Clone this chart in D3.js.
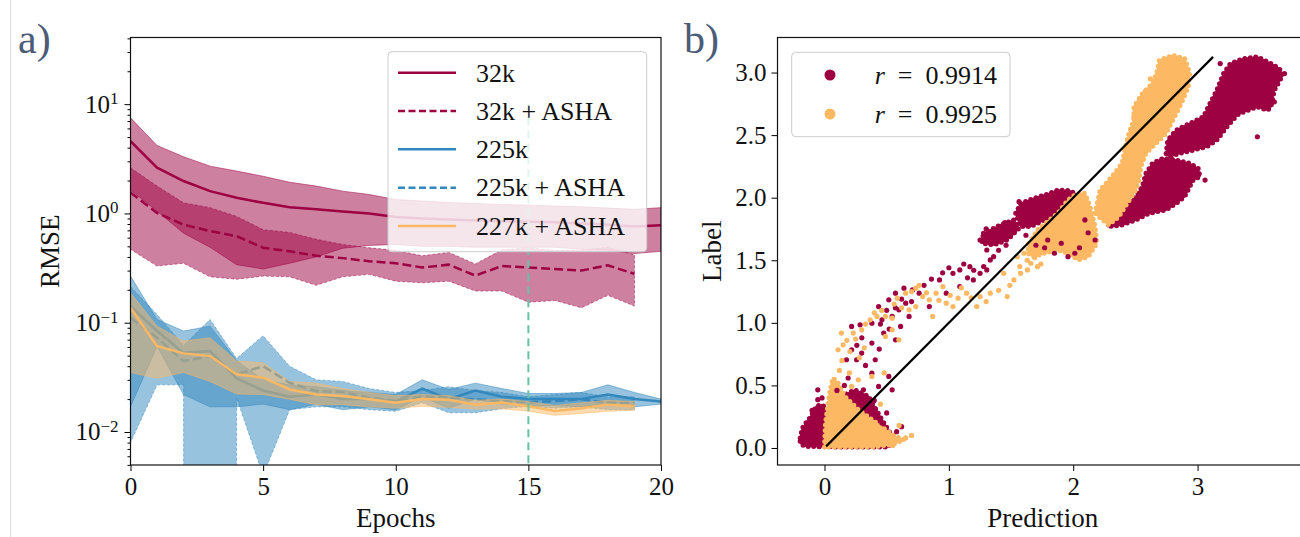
<!DOCTYPE html>
<html>
<head>
<meta charset="utf-8">
<script src="https://cdn.jsdelivr.net/npm/d3@7"></script>
<style>
  body { margin: 0; background: #fff; }
  svg text { font-family: 'Liberation Serif', 'DejaVu Serif', serif; fill: #111; }
</style>
</head>
<body>
<svg id="fig" width="1300" height="537"></svg>
<script>
// ---------- panel a) RMSE per epoch ----------
const epochs = [0,1,2,3,4,5,6,7,8,9,10,11,12,13,14,15,16,17,18,19,20];

const rmse32k = [4.59,2.62,1.98,1.60,1.39,1.25,1.14,1.09,1.04,1.00,0.93,0.90,0.88,0.86,0.85,0.84,0.83,0.81,0.79,0.76,0.78];
const hi32k   = [7.5,4.19,3.3,2.71,2.44,2.19,1.93,1.78,1.60,1.49,1.34,1.30,1.26,1.23,1.21,1.19,1.17,1.15,1.12,1.09,1.13];
const lo32k   = [1.64,1.05,0.66,0.49,0.34,0.31,0.35,0.40,0.48,0.51,0.52,0.50,0.50,0.49,0.49,0.49,0.49,0.47,0.46,0.43,0.45];

const rmse32kAsha = [1.55,1.01,0.79,0.69,0.62,0.485,0.45,0.41,0.39,0.365,0.35,0.32,0.34,0.27,0.33,0.32,0.31,0.30,0.335,0.28];
const hi32kAsha   = [2.62,1.78,1.25,1.13,0.94,0.71,0.67,0.58,0.52,0.485,0.46,0.41,0.44,0.345,0.465,0.486,0.46,0.463,0.49,0.418];
const lo32kAsha   = [0.47,0.33,0.35,0.263,0.25,0.267,0.263,0.22,0.263,0.277,0.24,0.232,0.24,0.195,0.195,0.154,0.16,0.137,0.178,0.142];

const rmse225k = [0.142,0.084,0.053,0.055,0.031,0.024,0.021,0.022,0.020,0.020,0.019,0.025,0.020,0.024,0.021,0.020,0.020,0.020,0.022,0.020,0.019];
const hi225k   = [0.267,0.107,0.084,0.093,0.045,0.030,0.027,0.026,0.024,0.023,0.022,0.030,0.0245,0.028,0.025,0.0225,0.0225,0.023,0.027,0.023,0.020];
const lo225k   = [0.017,0.061,0.022,0.017,0.017,0.018,0.016,0.018,0.016,0.017,0.016,0.021,0.0165,0.020,0.018,0.0175,0.0175,0.017,0.018,0.017,0.018];

// a lower bound of 0 cannot be shown on the log axis (drops out of the frame)
const rmse225kAsha = [0.111,0.073,0.0446,0.0495,0.0337,0.040,0.0282,0.0237,0.0232,0.0206,0.0192,0.0213,0.0206,0.0199,0.0192,0.0187,0.0192,0.0199,0.0185,0.0185];
const hi225kAsha   = [0.214,0.119,0.062,0.107,0.047,0.076,0.040,0.030,0.029,0.025,0.023,0.024,0.026,0.024,0.023,0.021,0.022,0.023,0.021,0.021];
const lo225kAsha   = [0.008,0.027,0.027,0,0.0206,0.004,0.016,0.017,0.017,0.016,0.0155,0.0185,0.015,0.015,0.0163,0.0172,0.0165,0.017,0.016,0.016];

const rmse227kAsha = [0.137,0.061,0.0524,0.0495,0.0337,0.0314,0.0245,0.022,0.0213,0.0199,0.0185,0.020,0.0197,0.0178,0.0186,0.0172,0.0156,0.0165,0.0178,0.0172];
const hi227kAsha   = [0.188,0.093,0.068,0.073,0.0446,0.043,0.029,0.028,0.025,0.023,0.0215,0.022,0.0215,0.0195,0.020,0.019,0.0175,0.0185,0.0195,0.019];
const lo227kAsha   = [0.035,0.031,0.035,0.029,0.0223,0.022,0.0199,0.0178,0.0178,0.017,0.0165,0.0172,0.0168,0.0162,0.0163,0.0155,0.0142,0.0148,0.0155,0.0158];

const xTicksL = [0,5,10,15,20];
const yMajorL = [0.01,0.1,1,10];
const markerEpoch = 15;

// ---------- panel b) prediction vs label ----------
const xTicksR = [0,1,2,3];
const yTicksR = [0,0.5,1,1.5,2,2.5,3];
const rValues = ["0.9914","0.9925"];
const diag = [0.013, 3.125];

// dense regions of points, outlines as [prediction, label]
const redBlobs = [
  [[-0.196,0.080],[-0.177,0.160],[-0.150,0.199],[-0.109,0.253],[-0.068,0.332],[-0.027,0.346],[0.0,0.332],[0.014,0.226],[0.041,0.066],[0.245,0.053],[0.462,0.066],[0.53,0.045],[0.517,0.008],[0.109,0.008],[-0.163,0.013],[-0.196,0.04]],
  [[0.136,0.412],[0.245,0.465],[0.354,0.412],[0.462,0.226],[0.544,0.093],[0.381,0.093],[0.190,0.199]],
  [[1.537,1.875],[1.577,1.955],[1.686,1.995],[1.795,2.029],[1.877,2.061],[1.972,2.056],[2.026,2.029],[2.013,1.955],[1.931,1.902],[1.822,1.848],[1.741,1.809],[1.659,1.769],[1.577,1.769]],
  [[1.278,1.715],[1.414,1.782],[1.523,1.822],[1.564,1.755],[1.469,1.662],[1.360,1.622],[1.265,1.636]],
  [[2.284,1.782],[2.312,1.848],[2.420,1.928],[2.502,2.008],[2.556,2.088],[2.584,2.194],[2.638,2.274],[2.720,2.314],[2.828,2.301],[2.937,2.274],[3.005,2.234],[3.019,2.168],[2.964,2.141],[2.937,2.088],[2.896,2.008],[2.828,1.955],[2.747,1.902],[2.611,1.875],[2.502,1.822],[2.393,1.782],[2.312,1.769]],
  [[2.747,2.354],[2.760,2.460],[2.828,2.540],[2.937,2.593],[3.046,2.646],[3.100,2.753],[3.155,2.859],[3.209,2.992],[3.264,3.072],[3.372,3.112],[3.481,3.125],[3.590,3.072],[3.658,3.032],[3.685,2.979],[3.617,2.859],[3.590,2.726],[3.563,2.699],[3.481,2.726],[3.372,2.686],[3.318,2.660],[3.236,2.566],[3.155,2.460],[3.073,2.407],[2.964,2.380],[2.856,2.354],[2.774,2.327]]
];
const orangeBlobs = [
  [[0.0,0.008],[0.008,0.199],[0.041,0.439],[0.068,0.559],[0.109,0.519],[0.163,0.412],[0.272,0.306],[0.381,0.226],[0.490,0.146],[0.571,0.093],[0.639,0.066],[0.544,0.027],[0.381,0.008]],
  [[1.645,1.636],[1.713,1.742],[1.795,1.809],[1.877,1.875],[1.958,1.981],[2.026,2.029],[2.094,2.035],[2.135,1.928],[2.176,1.769],[2.189,1.636],[2.121,1.529],[2.040,1.503],[1.958,1.556],[1.877,1.582],[1.768,1.556],[1.686,1.529],[1.632,1.556]],
  [[2.176,1.875],[2.216,2.061],[2.312,2.168],[2.393,2.274],[2.420,2.407],[2.448,2.513],[2.488,2.620],[2.488,2.726],[2.556,2.832],[2.638,2.912],[2.679,3.019],[2.692,3.098],[2.801,3.138],[2.896,3.112],[2.937,2.992],[2.924,2.886],[2.869,2.753],[2.801,2.620],[2.747,2.513],[2.665,2.434],[2.584,2.354],[2.543,2.247],[2.529,2.141],[2.502,2.061],[2.434,1.955],[2.366,1.848],[2.284,1.782]]
];
// sparse points, [prediction, label]
const redPts = [[0.218,0.971],[0.286,0.984],[0.381,0.997],[0.462,1.024],[0.435,1.130],[0.517,1.184],[0.571,1.237],[0.639,1.277],[0.707,1.263],[0.653,1.157],[0.598,1.104],[0.544,1.051],[0.476,0.918],[0.381,0.838],[0.299,0.758],[0.258,0.705],[0.218,0.785],[0.177,0.705],[0.381,0.598],[0.408,0.705],[0.517,0.572],[0.571,0.864],[0.612,0.971],[0.680,1.051],[0.761,1.237],[0.925,1.343],[1.033,1.396],[1.088,1.423],[1.169,1.449],[1.251,1.396],[1.333,1.503],[1.305,1.423],[1.088,1.290],[0.979,1.237],[0.843,1.130],[1.197,1.343],[1.251,1.662],[1.305,1.582],[1.360,1.529],[1.469,1.715],[1.564,1.968],[1.632,1.902],[1.741,1.875],[1.877,1.981],[1.904,1.636],[1.958,1.529],[2.013,1.556],[1.849,1.556],[1.795,1.662],[2.094,1.822],[2.176,1.662],[0.313,0.465],[0.354,0.359],[0.435,0.492],[0.544,0.465],[0.190,0.559],[-0.054,0.465],[-0.054,0.386],[0.462,0.199],[0.408,0.306],[3.182,3.072],[3.046,2.593],[2.964,2.194],[3.060,2.141],[3.699,2.992],[3.617,2.766],[3.481,2.487],
  [0.80,1.30],[0.86,1.35],[0.95,1.40],[1.00,1.44],[1.12,1.47],[1.20,1.42],[1.15,1.36],[1.28,1.45],[0.62,1.19],[0.57,1.12],[0.50,1.10],[0.45,0.99],[0.30,0.88],[0.26,0.82],[0.33,0.66],[0.44,0.79],[0.52,0.95],[0.70,1.17],[1.40,1.58],[1.46,1.62],[1.35,1.68],[1.30,1.75],[1.45,1.80],[1.52,1.72],[1.62,1.70],[1.70,1.62],[1.77,1.60],[2.05,1.60],[2.12,1.72],[0.16,0.50],[0.10,0.46],[0.28,0.40],[0.40,0.38],[0.50,0.28],[0.58,0.13],[0.62,0.17],[-0.10,0.30],[-0.02,0.40]];
const orangePts = [[0.109,0.785],[0.150,0.824],[0.204,0.771],[0.231,0.918],[0.299,0.944],[0.367,1.024],[0.422,1.051],[0.490,1.051],[0.544,1.037],[0.585,1.197],[0.653,1.237],[0.734,1.277],[0.789,1.210],[0.843,1.184],[0.897,1.237],[0.952,1.290],[0.979,1.157],[1.033,1.130],[1.074,1.197],[1.142,1.237],[1.224,1.130],[1.251,1.210],[1.333,1.237],[1.469,1.210],[1.441,1.396],[1.523,1.343],[1.577,1.396],[1.632,1.423],[1.659,1.476],[1.713,1.449],[1.550,1.529],[1.605,1.556],[1.686,1.582],[0.870,1.051],[0.734,1.130],[0.680,1.104],[0.544,0.944],[0.490,0.891],[0.598,0.864],[0.381,0.572],[0.218,0.492],[0.272,0.545],[0.136,0.918],[0.653,0.080],[2.488,2.646],[2.475,2.460],[2.434,2.327],
  [0.18,0.86],[0.25,0.87],[0.33,0.99],[0.40,1.08],[0.46,1.10],[0.56,1.15],[0.62,1.12],[0.70,1.25],[0.76,1.30],[0.82,1.24],[0.92,1.18],[1.01,1.22],[1.10,1.28],[1.18,1.20],[1.30,1.17],[1.40,1.26],[1.49,1.30],[1.57,1.45],[1.63,1.50],[1.69,1.52],[1.74,1.47],[0.14,0.70],[0.12,0.62],[0.20,0.60],[0.28,0.72],[0.32,0.80],[0.48,0.60],[0.45,0.35],[0.60,0.18],[0.70,0.10],[0.55,0.02],[2.40,2.20],[2.45,2.40],[2.50,2.55],[2.52,2.70],[2.58,2.85],[2.62,2.95]];

// ---------- drawing ----------
const RED = "#9e0142", BLUE = "#3288bd", ORANGE = "#fdb863", GREEN = "#66c2a5";
const svg = d3.select("#fig");
const defs = svg.append("defs");

svg.append("line").attr("x1", 10.5).attr("x2", 10.5).attr("y1", 0).attr("y2", 537)
  .attr("stroke", "#dcdcdc").attr("stroke-width", 1);

const pL = {left: 130.5, right: 661, top: 37.5, bottom: 465};
const xL = d3.scaleLinear().domain([0, 20]).range([pL.left, pL.right]);
const yL = d3.scaleLog().domain([Math.pow(10, -2.302), Math.pow(10, 1.61)]).range([pL.bottom, pL.top]);
const pos = v => Math.max(v, 1e-300);

defs.append("clipPath").attr("id", "clipL").append("rect")
  .attr("x", pL.left).attr("y", pL.top).attr("width", pL.right - pL.left).attr("height", pL.bottom - pL.top);

const gL = svg.append("g").attr("clip-path", "url(#clipL)");

const series = [
  {name: "32k",        mean: rmse32k,      lo: lo32k,      hi: hi32k,      color: RED,    dash: null},
  {name: "32k + ASHA", mean: rmse32kAsha,  lo: lo32kAsha,  hi: hi32kAsha,  color: RED,    dash: "9,4"},
  {name: "225k",       mean: rmse225k,     lo: lo225k,     hi: hi225k,     color: BLUE,   dash: null},
  {name: "225k + ASHA",mean: rmse225kAsha, lo: lo225kAsha, hi: hi225kAsha, color: BLUE,   dash: "9,4"},
  {name: "227k + ASHA",mean: rmse227kAsha, lo: lo227kAsha, hi: hi227kAsha, color: ORANGE, dash: null}
];

const band = d3.area()
  .x((d, i) => xL(epochs[i]))
  .y0(d => yL(pos(d[0])))
  .y1(d => yL(pos(d[1])));
const meanLine = d3.line().x((d, i) => xL(epochs[i])).y(d => yL(d));

series.forEach(s => {
  gL.append("path")
    .attr("d", band(s.lo.map((v, i) => [v, s.hi[i]])))
    .attr("fill", s.color).attr("fill-opacity", 0.5)
    .attr("stroke", s.color).attr("stroke-opacity", 0.5).attr("stroke-width", 1)
    .attr("stroke-dasharray", s.dash ? "3,2" : null);
  gL.append("path")
    .attr("d", meanLine(s.mean))
    .attr("fill", "none").attr("stroke", s.color).attr("stroke-width", 2.5)
    .attr("stroke-dasharray", s.dash);
});

gL.append("line")
  .attr("x1", xL(markerEpoch)).attr("x2", xL(markerEpoch))
  .attr("y1", yL(10)).attr("y2", pL.bottom)
  .attr("stroke", GREEN).attr("stroke-width", 2).attr("stroke-dasharray", "8,5");

// axes a)
const axL = svg.append("g");
axL.append("g").attr("transform", `translate(0,${pL.bottom})`)
  .call(d3.axisBottom(xL).tickValues(xTicksL).tickSize(6).tickPadding(6).tickFormat(d3.format("d")))
  .call(g => g.select(".domain").remove())
  .call(g => g.selectAll("text").attr("font-size", 25));

const minorL = [];
[0.001, 0.01, 0.1, 1, 10].forEach(b => { for (let k = 2; k <= 9; k++) minorL.push(b * k); });
axL.append("g").attr("transform", `translate(${pL.left},0)`)
  .call(d3.axisLeft(yL).tickValues(minorL.filter(v => v >= yL.domain()[0] && v <= yL.domain()[1])).tickSize(3).tickFormat(""))
  .call(g => g.select(".domain").remove());
axL.append("g").attr("transform", `translate(${pL.left},0)`)
  .call(d3.axisLeft(yL).tickValues(yMajorL).tickSize(6).tickPadding(10).tickFormat(""))
  .call(g => g.select(".domain").remove())
  .call(g => g.selectAll(".tick").append("text")
    .attr("x", -12).attr("dy", "0.32em").attr("text-anchor", "end").attr("font-size", 25).attr("fill", "#111")
    .each(function(d) {
      const e = Math.round(Math.log10(d));
      const t = d3.select(this);
      t.append("tspan").text("10");
      t.append("tspan").attr("dy", "-0.5em").attr("font-size", 17).text(e < 0 ? "\u2212" + (-e) : e);
    }));

axL.append("rect").attr("x", pL.left).attr("y", pL.top)
  .attr("width", pL.right - pL.left).attr("height", pL.bottom - pL.top)
  .attr("fill", "none").attr("stroke", "#111").attr("stroke-width", 1.2);

svg.append("text").attr("x", (pL.left + pL.right) / 2).attr("y", 527)
  .attr("text-anchor", "middle").attr("font-size", 27).text("Epochs");
svg.append("text").attr("transform", `translate(59,${(pL.top + pL.bottom) / 2}) rotate(-90)`)
  .attr("text-anchor", "middle").attr("font-size", 27).text("RMSE");

// legend a)
const lg = svg.append("g");
lg.append("rect").attr("x", 388).attr("y", 51.7).attr("width", 258.7).attr("height", 200).attr("rx", 4)
  .attr("fill", "#fff").attr("fill-opacity", 0.8).attr("stroke", "#cccccc");
const rowY = d3.scalePoint().domain(series.map(s => s.name)).range([72.7, 226]);
series.forEach(s => {
  const y = rowY(s.name);
  lg.append("line").attr("x1", 398).attr("x2", 456).attr("y1", y).attr("y2", y)
    .attr("stroke", s.color).attr("stroke-width", 2.5).attr("stroke-dasharray", s.dash ? "7,3.5" : null);
  lg.append("text").attr("x", 476).attr("y", y + 8.8).attr("font-size", 26).text(s.name);
});

// ---------- panel b) ----------
const pR = {left: 777.5, right: 1308, top: 37.5, bottom: 465};
const xR = d3.scaleLinear().domain([-0.378, 3.888]).range([pR.left, pR.right]);
const yR = d3.scaleLinear().domain([-0.136, 3.28]).range([pR.bottom, pR.top]);

defs.append("clipPath").attr("id", "clipR").append("rect")
  .attr("x", pR.left).attr("y", pR.top).attr("width", pR.right - pR.left).attr("height", pR.bottom - pR.top);
const gR = svg.append("g").attr("clip-path", "url(#clipR)");

const blob = d3.line().x(d => xR(d[0])).y(d => yR(d[1])).curve(d3.curveLinearClosed);
// dense region = filled outline whose edge is drawn as a row of dots
const drawBlobs = (list, color) => {
  const g = gR.append("g");
  g.selectAll("path.fill").data(list).join("path").attr("class", "fill")
    .attr("d", blob).attr("fill", color).attr("stroke", color).attr("stroke-width", 1.5);
  g.selectAll("path.edge").data(list).join("path").attr("class", "edge")
    .attr("d", blob).attr("fill", "none").attr("stroke", color)
    .attr("stroke-width", 5).attr("stroke-linecap", "round").attr("stroke-dasharray", "0,5.5");
};
const drawPts = (list, color) => gR.append("g").selectAll("circle").data(list).join("circle")
  .attr("cx", d => xR(d[0])).attr("cy", d => yR(d[1])).attr("r", 2.6).attr("fill", color);

drawBlobs(redBlobs, RED);
drawBlobs(orangeBlobs, ORANGE);
drawPts(redPts, RED);
drawPts(orangePts, ORANGE);

gR.append("line").attr("x1", xR(diag[0])).attr("y1", yR(diag[0]))
  .attr("x2", xR(diag[1])).attr("y2", yR(diag[1]))
  .attr("stroke", "#000").attr("stroke-width", 2.2);

const axR = svg.append("g");
axR.append("g").attr("transform", `translate(0,${pR.bottom})`)
  .call(d3.axisBottom(xR).tickValues(xTicksR).tickSize(6).tickPadding(6).tickFormat(d3.format("d")))
  .call(g => g.select(".domain").remove())
  .call(g => g.selectAll("text").attr("font-size", 25));
axR.append("g").attr("transform", `translate(${pR.left},0)`)
  .call(d3.axisLeft(yR).tickValues(yTicksR).tickSize(6).tickPadding(5).tickFormat(d3.format(".1f")))
  .call(g => g.select(".domain").remove())
  .call(g => g.selectAll("text").attr("font-size", 25));
axR.append("rect").attr("x", pR.left).attr("y", pR.top)
  .attr("width", pR.right - pR.left).attr("height", pR.bottom - pR.top)
  .attr("fill", "none").attr("stroke", "#111").attr("stroke-width", 1.2);

svg.append("text").attr("x", (pR.left + pR.right) / 2).attr("y", 527)
  .attr("text-anchor", "middle").attr("font-size", 27).text("Prediction");
svg.append("text").attr("transform", `translate(721,${(pR.top + pR.bottom) / 2}) rotate(-90)`)
  .attr("text-anchor", "middle").attr("font-size", 27).text("Label");

// legend b)
const lgR = svg.append("g");
lgR.append("rect").attr("x", 791.7).attr("y", 52.3).attr("width", 218.3).attr("height", 84.4).attr("rx", 4)
  .attr("fill", "#fff").attr("fill-opacity", 0.8).attr("stroke", "#cccccc");
[RED, ORANGE].forEach((c, i) => {
  const y = [75, 114][i];
  lgR.append("circle").attr("cx", 830).attr("cy", y).attr("r", 5.5).attr("fill", c);
  const t = lgR.append("text").attr("x", 997).attr("y", y + 9).attr("text-anchor", "end").attr("font-size", 26);
  t.append("tspan").attr("font-style", "italic").text("r");
  t.append("tspan").text("\u2002=\u2002" + rValues[i]);
});

// panel letters
svg.append("text").attr("x", 18).attr("y", 53).attr("font-size", 42).style("fill", "#4c5b78").text("a)");
svg.append("text").attr("x", 684).attr("y", 53).attr("font-size", 42).style("fill", "#4c5b78").text("b)");
</script>
</body>
</html>
